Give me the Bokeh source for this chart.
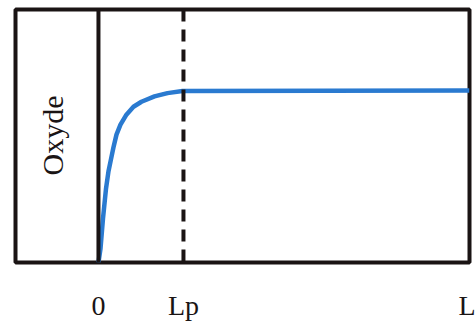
from bokeh.plotting import figure
from bokeh.models import Span, Range1d, FixedTicker
from bokeh.core.properties import value
from bokeh.embed import file_html
from bokeh.resources import INLINE

# positions along the sample (units of Lp)
L_end = 4.365
Lp = 1.0
oxide_start = -0.976
tick_values = [0.0, Lp, L_end]
tick_labels = ["0", "Lp", "L"]

# concentration profile (normalised to plateau = 1)
curve_x = [0.0, 0.024, 0.053, 0.088, 0.118, 0.147, 0.176, 0.212, 0.259, 0.329,
           0.412, 0.506, 0.659, 0.812, 0.988, 4.365]
curve_y = [0.0, 0.081, 0.254, 0.426, 0.530, 0.599, 0.668, 0.743, 0.801, 0.859,
           0.905, 0.934, 0.965, 0.984, 0.996, 1.0]

region_label = "Oxyde"

p = figure(width=475, height=323, output_backend="svg", toolbar_location=None,
           x_range=Range1d(oxide_start, L_end), y_range=Range1d(0, 1.47),
           min_border_left=15, min_border_right=6, min_border_top=9, min_border_bottom=59)
p.background_fill_color = "white"
p.border_fill_color = "white"
p.outline_line_color = "#1a1414"
p.outline_line_width = 4
p.xgrid.visible = False
p.ygrid.visible = False
p.yaxis.visible = False

ax = p.xaxis[0]
ax.ticker = FixedTicker(ticks=tick_values)
ax.major_label_overrides = {v: t for v, t in zip(tick_values, tick_labels)}
ax.axis_line_color = None
ax.major_tick_line_color = None
ax.minor_tick_line_color = None
ax.major_tick_in = 0
ax.major_tick_out = 0
ax.major_label_standoff = 27
ax.major_label_text_font = "Liberation Serif"
ax.major_label_text_font_size = "28px"
ax.major_label_text_color = "#1a1414"

p.add_layout(Span(location=0.0, dimension="height", line_color="#1a1414", line_width=4))
p.add_layout(Span(location=Lp, dimension="height", line_color="#1a1414", line_width=4,
                  line_dash="12 8"))

p.line(curve_x, curve_y, line_color="#2a7ad0", line_width=4.5)

p.text(x=[-0.535], y=[0.738], text=[region_label], angle=1.5708,
       text_align="center", text_baseline="middle",
       text_font=value("Liberation Serif"), text_font_size="30px", text_color="#1a1414")

open("out.html", "w").write(file_html(p, INLINE))
